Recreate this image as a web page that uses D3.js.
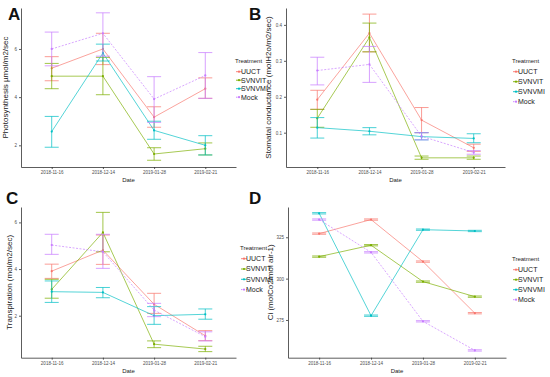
<!DOCTYPE html>
<meta charset="utf-8">
<style>
    body { margin: 0; background: #fff; }
    svg { font-family: "Liberation Sans", Arial, sans-serif; }
    .axis path, .axis line { stroke: #333; stroke-width: 0.8px; }
    .axis text { fill: #4d4d4d; font-size: 4.5px; }
    .ytitle { font-size: 8px; fill: #222; }
    .xtitle { font-size: 6px; fill: #222; }
    .letter { font-size: 17px; font-weight: bold; fill: #111; }
    .legtitle { font-size: 6px; fill: #222; }
    .leglabel { font-size: 7px; fill: #222; }
</style>
<body>
<script src="https://d3js.org/d3.v7.min.js"></script>
<script>
// categories and series
var dates = ["2018-11-16", "2018-12-14", "2019-01-28", "2019-02-21"];
var treatments = ["UUCT", "SVNVIT", "SVNVMI", "Mock"];
var colors = ["#F8766D", "#7CAE00", "#00BFC4", "#C77CFF"];

// A: photosynthesis
var photoMean = {UUCT: [5.2, 6.0, 3.17, 4.35], SVNVIT: [4.87, 4.87, 1.64, 1.86], SVNVMI: [2.57, 5.83, 2.62, 2.0], Mock: [6.0, 6.65, 3.92, 4.9]};
var photoLo = {UUCT: [4.68, 5.35, 2.75, 3.95], SVNVIT: [4.35, 4.1, 1.38, 1.6], SVNVMI: [1.92, 5.5, 2.25, 1.6], Mock: [5.3, 5.7, 2.95, 3.95]};
var photoHi = {UUCT: [5.68, 6.65, 3.6, 4.8], SVNVIT: [5.4, 5.65, 1.9, 2.1], SVNVMI: [3.2, 6.2, 3.0, 2.4], Mock: [6.7, 7.5, 4.85, 5.85]};

// B: stomatal conductance
var condMean = {UUCT: [0.192, 0.377, 0.135, 0.058], SVNVIT: [0.14, 0.365, 0.03, 0.03], SVNVMI: [0.114, 0.104, 0.089, 0.084], Mock: [0.273, 0.29, 0.09, 0.045]};
var condLo = {UUCT: [0.165, 0.325, 0.1, 0.048], SVNVIT: [0.115, 0.325, 0.026, 0.026], SVNVMI: [0.085, 0.094, 0.08, 0.072], Mock: [0.233, 0.24, 0.08, 0.04]};
var condHi = {UUCT: [0.218, 0.43, 0.17, 0.068], SVNVIT: [0.165, 0.405, 0.035, 0.035], SVNVMI: [0.142, 0.114, 0.1, 0.097], Mock: [0.31, 0.34, 0.1, 0.05]};

// C: transpiration
var transMean = {UUCT: [3.91, 4.81, 2.49, 1.14], SVNVIT: [3.13, 5.57, 0.78, 0.57], SVNVMI: [3.03, 3.0, 2.0, 2.06], Mock: [5.03, 4.74, 2.24, 1.1]};
var transLo = {UUCT: [3.6, 4.2, 2.1, 0.93], SVNVIT: [2.75, 4.74, 0.63, 0.46], SVNVMI: [2.57, 2.77, 1.63, 1.85], Mock: [4.63, 4.03, 1.96, 0.92]};
var transHi = {UUCT: [4.21, 5.46, 2.96, 1.36], SVNVIT: [3.56, 6.43, 0.92, 0.69], SVNVMI: [3.49, 3.21, 2.39, 2.29], Mock: [5.49, 5.49, 2.53, 1.31]};

// D: Ci
var ciMean = {UUCT: [327.2, 335.7, 310.3, 279.1], SVNVIT: [313.3, 320.2, 298.2, 289.1], SVNVMI: [339.5, 277.6, 329.6, 328.8], Mock: [335.7, 315.9, 274.2, 256.6]};
var ciLo = {UUCT: [326.8, 335.3, 309.9, 278.7], SVNVIT: [312.9, 319.8, 297.8, 288.7], SVNVMI: [339.1, 277.2, 329.2, 328.4], Mock: [335.3, 315.5, 273.8, 256.2]};
var ciHi = {UUCT: [327.6, 336.1, 310.7, 279.5], SVNVIT: [313.7, 320.6, 298.6, 289.5], SVNVMI: [339.9, 278.0, 330.0, 329.2], Mock: [336.1, 316.3, 274.6, 257.0]};

var panels = [
    {letter: "A", mean: photoMean, lo: photoLo, hi: photoHi, domain: [1.1, 7.7], ticks: [2, 4, 6], fmt: d3.format("d"),
     title: "Photosynthesis \u00b5mol/m2/sec", box: [21, 236, 8, 167], leg: [235, 63], legGap: 8.5, lx: 8, lettXY: [8, 20]},
    {letter: "B", mean: condMean, lo: condLo, hi: condHi, domain: [0.0045, 0.447], ticks: [0.1, 0.2, 0.3, 0.4], fmt: d3.format(".1f"),
     title: "Stomatal conductance (molH2o/m2/sec)", box: [286, 505, 8, 167], leg: [512, 63], legGap: 10, lx: 271, lettXY: [249, 20]},
    {letter: "C", mean: transMean, lo: transLo, hi: transHi, domain: [0.2, 6.66], ticks: [2, 4, 6], fmt: d3.format("d"),
     title: "Transpiration (mol/m2/sec)", box: [21, 236, 207, 357.7], leg: [240, 250], legGap: 10.3, lx: 12, lettXY: [6, 204]},
    {letter: "D", mean: ciMean, lo: ciLo, hi: ciHi, domain: [252.2, 343.3], ticks: [275, 300, 325], fmt: d3.format("d"),
     title: "Ci (molCo2/mol air-1)", box: [288, 506, 207, 357.7], leg: [512, 261], legGap: 10, lx: 273, lettXY: [249, 204]}
];

var svg = d3.select("body").append("svg")
    .attr("width", 550)
    .attr("height", 377);

panels.forEach(function(p) {
    var g = svg.append("g");
    var x = d3.scalePoint().domain(dates).range([p.box[0], p.box[1]]).padding(0.6);
    var y = d3.scaleLinear().domain(p.domain).range([p.box[3], p.box[2]]);

    // axes
    g.append("g").attr("class", "axis")
        .attr("transform", "translate(0," + p.box[3] + ")")
        .call(d3.axisBottom(x).tickSize(2).tickSizeOuter(0).tickPadding(2));
    g.append("g").attr("class", "axis")
        .attr("transform", "translate(" + p.box[0] + ",0)")
        .call(d3.axisLeft(y).tickValues(p.ticks).tickFormat(p.fmt).tickSize(2).tickSizeOuter(0).tickPadding(2));

    g.append("text").attr("class", "xtitle")
        .attr("x", (p.box[0] + p.box[1]) / 2).attr("y", p.box[3] + 15)
        .attr("text-anchor", "middle").text("Date");
    g.append("text").attr("class", "ytitle")
        .attr("transform", "translate(" + p.lx + "," + (p.box[2] + p.box[3]) / 2 + ") rotate(-90)")
        .attr("text-anchor", "middle").text(p.title);
    g.append("text").attr("class", "letter")
        .attr("x", p.lettXY[0]).attr("y", p.lettXY[1]).text(p.letter);

    treatments.forEach(function(t, i) {
        var pts = dates.map(function(d, j) {
            return {d: d, v: p.mean[t][j], lo: p.lo[t][j], hi: p.hi[t][j]};
        });
        var line = d3.line().x(function(d) { return x(d.d); }).y(function(d) { return y(d.v); });
        g.append("path").datum(pts)
            .attr("d", line)
            .attr("fill", "none")
            .attr("stroke", colors[i])
            .attr("stroke-opacity", 0.75)
            .attr("stroke-width", 0.9)
            .attr("stroke-dasharray", t === "Mock" ? "2,1.5" : null);

        var eb = g.append("g").attr("stroke", colors[i]).attr("stroke-width", 0.9).attr("stroke-opacity", 0.8);
        pts.forEach(function(d) {
            var cx = x(d.d);
            eb.append("line").attr("x1", cx).attr("x2", cx).attr("y1", y(d.lo)).attr("y2", y(d.hi));
            eb.append("line").attr("x1", cx - 7).attr("x2", cx + 7).attr("y1", y(d.lo)).attr("y2", y(d.lo));
            eb.append("line").attr("x1", cx - 7).attr("x2", cx + 7).attr("y1", y(d.hi)).attr("y2", y(d.hi));
        });
        g.selectAll(null).data(pts).enter().append("circle")
            .attr("cx", function(d) { return x(d.d); })
            .attr("cy", function(d) { return y(d.v); })
            .attr("r", 1.1)
            .attr("fill", colors[i]);
    });

    // legend
    var lg = g.append("g").attr("transform", "translate(" + p.leg[0] + "," + p.leg[1] + ")");
    lg.append("text").attr("class", "legtitle").attr("x", 0).attr("y", 0).text("Treatment");
    treatments.forEach(function(t, i) {
        var yy = 11 + i * p.legGap;
        lg.append("line").attr("x1", 1).attr("x2", 7).attr("y1", yy - 2.3).attr("y2", yy - 2.3)
            .attr("stroke", colors[i]).attr("stroke-width", 0.9)
            .attr("stroke-dasharray", t === "Mock" ? "1.5,1" : null);
        lg.append("circle").attr("cx", 4).attr("cy", yy - 2.3).attr("r", 1.1).attr("fill", colors[i]);
        lg.append("text").attr("class", "leglabel").attr("x", 6).attr("y", yy).text(t);
    });
});
</script>
</body>
